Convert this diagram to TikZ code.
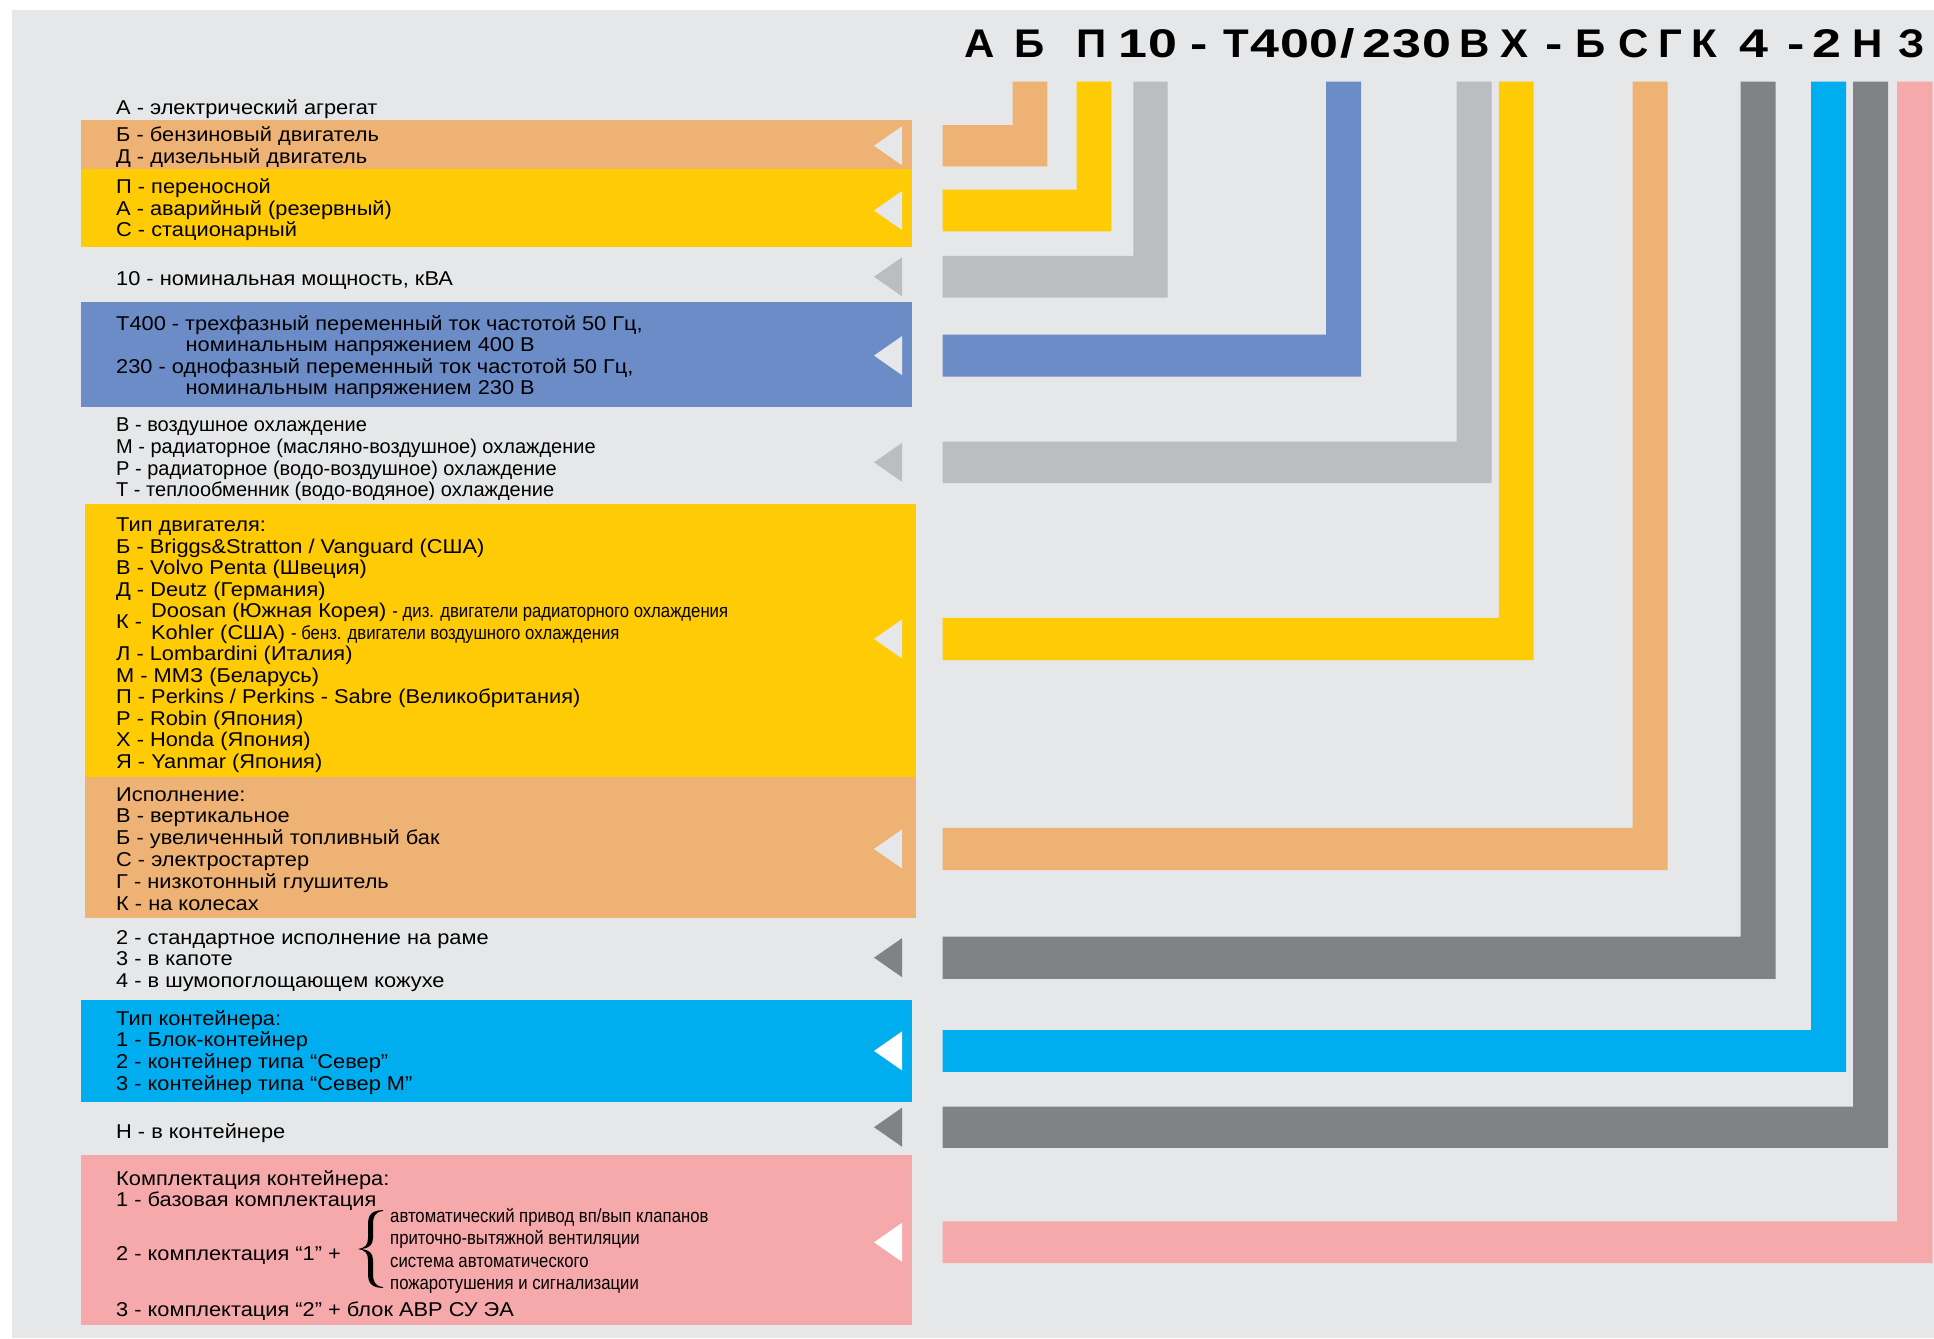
\documentclass[tikz,border=0pt]{standalone}
\usepackage{fontspec}
\setmainfont{Liberation Sans}[FakeStretch=1.09]
\newfontfamily\hdrfont{Liberation Sans}[FakeStretch=1.05]
\newfontfamily\hdrdig{Liberation Sans}[FakeStretch=1.3]
\newfontfamily\condfont{Liberation Sans}[FakeStretch=0.88]
\newfontfamily\coolfont{Liberation Sans}[FakeStretch=1.0]
\definecolor{bg}{HTML}{E6E7E8}
\definecolor{cor}{HTML}{EEB274}
\definecolor{cye}{HTML}{FFCB05}
\definecolor{clg}{HTML}{BBBDC0}
\definecolor{cbl}{HTML}{6C8CC7}
\definecolor{cdg}{HTML}{818286}
\definecolor{ccy}{HTML}{00AEEF}
\definecolor{cpk}{HTML}{F6A9AB}
\tikzset{
  txt/.style={anchor=base west, inner sep=0pt, font=\fontsize{20}{22}\selectfont},
  cooltxt/.style={txt, font=\coolfont\fontsize{20}{22}\selectfont},
  smalltxt/.style={anchor=base west, inner sep=0pt, font=\condfont\fontsize{19}{22}\selectfont},
  hdr/.style={anchor=base, inner sep=0pt, font=\hdrfont\bfseries\fontsize{40}{40}\selectfont},
  hdrd/.style={anchor=base, inner sep=0pt, font=\hdrdig\bfseries\fontsize{40}{40}\selectfont},
}
\newcommand\Lbar[5]{\fill[#1] (942.6,#4) -- (#2,#4) -- (#2,81.5) -- (#3,81.5) -- (#3,#5) -- (942.6,#5) -- cycle;}
\newcommand\Tri[2]{\fill[#1] (874,#2) -- (902,#2-19.5) -- (902,#2+19.5) -- cycle;}
\newcommand\txtline[3]{\node[txt] (#1) at (116,#2) {#3};}
\newcommand\hdrch[3]{\node[hdr] (#1) at (#2,57.7) {#3};}
\newcommand\hdrdg[3]{\node[hdrd] (#1) at (#2,57.7) {#3};}
\begin{document}
\begin{tikzpicture}[x=1pt,y=-1pt]
\useasboundingbox (0,0) rectangle (1934,1338);
\fill[white] (0,0) rectangle (1934,1338);
\fill[bg] (12,10) rectangle (1934,1338);
% panels
\fill[cor] (81,120) rectangle (912,169);
\fill[cye] (81,169) rectangle (912,246.7);
\fill[cbl] (81,302) rectangle (912,406.7);
\fill[cye] (85,504) rectangle (915.5,777.3);
\fill[cor] (85,777.3) rectangle (915.5,918.3);
\fill[ccy] (81,1000) rectangle (912,1101.7);
\fill[cpk] (81,1155) rectangle (912,1325);
% L-shaped bars
\Lbar{cor}{1012.5}{1047.4}{125.1}{166.4}
\Lbar{cye}{1076.5}{1111.4}{189.7}{231.4}
\Lbar{clg}{1133.4}{1167.7}{255.9}{297.6}
\Lbar{cbl}{1326.1}{1361.0}{334.7}{376.5}
\Lbar{clg}{1456.7}{1491.7}{441.5}{483.2}
\Lbar{cye}{1498.8}{1533.7}{617.9}{660.0}
\Lbar{cor}{1632.6}{1667.5}{827.9}{870.1}
\Lbar{cdg}{1740.6}{1775.5}{936.5}{978.8}
\Lbar{ccy}{1811.1}{1846.0}{1030.0}{1071.8}
\Lbar{cdg}{1853.1}{1888.0}{1106.5}{1147.9}
\Lbar{cpk}{1897.1}{1932.7}{1221.4}{1263.2}
% triangles
\Tri{bg}{145.75}
\Tri{bg}{210.55}
\Tri{clg}{276.75}
\Tri{bg}{355.6}
\Tri{clg}{462.35}
\Tri{bg}{638.95}
\Tri{bg}{849}
\Tri{cdg}{957.65}
\Tri{white}{1050.9}
\Tri{cdg}{1127.2}
\Tri{white}{1242.3}
% header
\hdrch{h1}{979.6}{А}
\hdrch{h2}{1030}{Б}
\hdrch{h3}{1092}{П}
\hdrdg{h4}{1133.4}{1}
\hdrdg{h5}{1162.5}{0}
\hdrdg{h6}{1198.7}{-}
\hdrch{h7}{1236.3}{Т}
\hdrdg{h8}{1264.9}{4}
\hdrdg{h9}{1295}{0}
\hdrdg{h10}{1323.5}{0}
\hdrdg{h11}{1347.3}{/}
\hdrdg{h12}{1376.8}{2}
\hdrdg{h13}{1406.5}{3}
\hdrdg{h14}{1436.7}{0}
\hdrch{h15}{1475}{В}
\hdrch{h16}{1514.3}{Х}
\hdrdg{h17}{1553.7}{-}
\hdrch{h18}{1590.4}{Б}
\hdrch{h19}{1633.2}{С}
\hdrch{h20}{1670.6}{Г}
\hdrch{h21}{1704.5}{К}
\hdrdg{h22}{1753.7}{4}
\hdrdg{h23}{1795.8}{-}
\hdrdg{h24}{1826.9}{2}
\hdrch{h25}{1867.2}{Н}
\hdrch{h26}{1911.5}{З}
% texts
\txtline{a1}{114.5}{А - электрический агрегат}
\txtline{b1}{141.5}{Б - бензиновый двигатель}
\txtline{b2}{163.3}{Д - дизельный двигатель}
\txtline{c1}{193.3}{П - переносной}
\txtline{c2}{215}{А - аварийный (резервный)}
\txtline{c3}{236.7}{С - стационарный}
\txtline{d1}{285.7}{10 - номинальная мощность, кВА}
\txtline{e1}{330}{Т400 - трехфазный переменный ток частотой 50 Гц,}
\node[txt] (e2) at (185.5,351.7) {номинальным напряжением 400 В};
\txtline{e3}{373}{230 - однофазный переменный ток частотой 50 Гц,}
\node[txt] (e4) at (185.5,394.5) {номинальным напряжением 230 В};
\node[cooltxt] (f1) at (116,431.7) {В - воздушное охлаждение};
\node[cooltxt] (f2) at (116,453.3) {М - радиаторное (масляно-воздушное) охлаждение};
\node[cooltxt] (f3) at (116,475) {Р - радиаторное (водо-воздушное) охлаждение};
\node[cooltxt] (f4) at (116,496.7) {Т - теплообменник (водо-водяное) охлаждение};
\txtline{g0}{531.7}{Тип двигателя:}
\txtline{g1}{553.2}{Б - Briggs\&Stratton / Vanguard (США)}
\txtline{g2}{574.7}{В - Volvo Penta (Швеция)}
\txtline{g3}{596.2}{Д - Deutz (Германия)}
\txtline{gk}{628.5}{К -}
\node[txt] (g4) at (151,617.7) {Doosan (Южная Корея) {\condfont\fontsize{19}{22}\selectfont - диз. двигатели радиаторного охлаждения}};
\node[txt] (g5) at (151,639.2) {Kohler (США) {\condfont\fontsize{19}{22}\selectfont - бенз. двигатели воздушного охлаждения}};
\txtline{g6}{660.7}{Л - Lombardini (Италия)}
\txtline{g7}{682.2}{М - ММЗ (Беларусь)}
\txtline{g8}{703.7}{П - Perkins / Perkins - Sabre (Великобритания)}
\txtline{g9}{725.2}{Р - Robin (Япония)}
\txtline{g10}{746.7}{Х - Honda (Япония)}
\txtline{g11}{768.2}{Я - Yanmar (Япония)}
\txtline{i0}{801}{Исполнение:}
\txtline{i1}{822.8}{В - вертикальное}
\txtline{i2}{844.6}{Б - увеличенный топливный бак}
\txtline{i3}{866.4}{С - электростартер}
\txtline{i4}{888.2}{Г - низкотонный глушитель}
\txtline{i5}{910}{К - на колесах}
\txtline{j1}{944}{2 - стандартное исполнение на раме}
\txtline{j2}{965.8}{3 - в капоте}
\txtline{j3}{987.6}{4 - в шумопоглощающем кожухе}
\txtline{k0}{1025}{Тип контейнера:}
\txtline{k1}{1046.7}{1 - Блок-контейнер}
\txtline{k2}{1068.3}{2 - контейнер типа “Север”}
\txtline{k3}{1090}{3 - контейнер типа “Север М”}
\txtline{n1}{1138.3}{Н - в контейнере}
\txtline{p0}{1185}{Комплектация контейнера:}
\txtline{p1}{1206.7}{1 - базовая комплектация}
\txtline{p2}{1260}{2 - комплектация “1” +}
\txtline{p3}{1316.7}{3 - комплектация “2” + блок АВР СУ ЭА}
\node[smalltxt] (s1) at (390,1222.5) {автоматический привод вп/вып клапанов};
\node[smalltxt] (s2) at (390,1244.5) {приточно-вытяжной вентиляции};
\node[smalltxt] (s3) at (390,1267.5) {система автоматического};
\node[smalltxt] (s4) at (390,1289) {пожаротушения и сигнализации};
% brace
\fill[black] (383,1210) .. controls (371,1210.5) and (368,1215) .. (368,1225)
  -- (368,1238) .. controls (368,1245) and (365,1248) .. (358,1249)
  .. controls (365,1250) and (368,1253) .. (368,1260)
  -- (368,1273) .. controls (368,1283) and (371,1287.5) .. (383,1288)
  -- (383,1287) .. controls (375,1286) and (373,1282) .. (373,1273)
  -- (373,1260) .. controls (373,1253) and (369,1250) .. (362,1249)
  .. controls (369,1248) and (373,1245) .. (373,1238)
  -- (373,1225) .. controls (373,1216) and (375,1212) .. (383,1211) -- cycle;
\end{tikzpicture}
\end{document}
